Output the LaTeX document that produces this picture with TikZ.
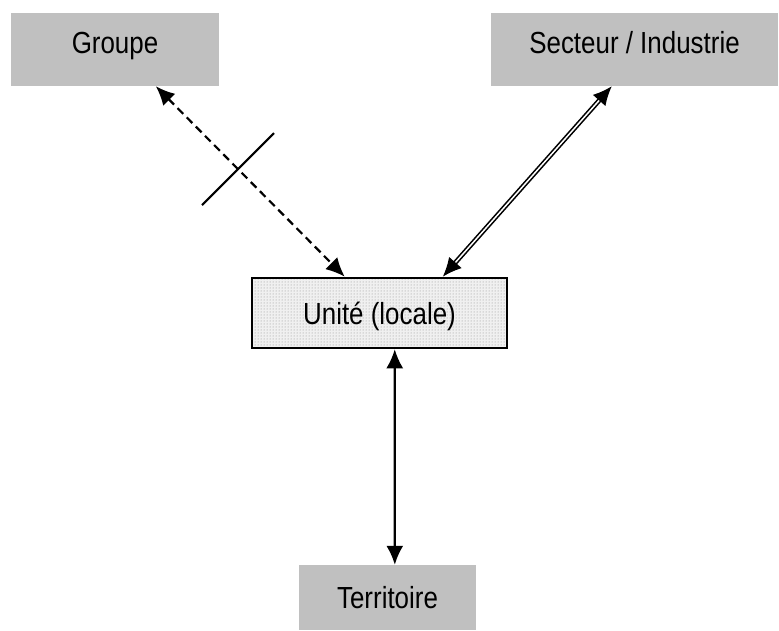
\documentclass[tikz,border=0pt]{standalone}
\usepackage{fontspec}
\setmainfont{Liberation Sans}[FakeStretch=0.85]
\definecolor{BoxGray}{HTML}{C0C0C0}
\usetikzlibrary{arrows.meta,patterns}

\begin{document}
\begin{tikzpicture}[x=1pt,y=-1pt,every node/.style={font=\fontsize{30.5}{36}\selectfont, inner sep=0pt}, greybox/.style={fill=BoxGray, minimum height=73pt, text height=22pt, text depth=14pt}, unitbox/.style={draw, line width=2.5pt, preaction={fill=gray!12}, pattern=dots, pattern color=gray!90, minimum width=255pt, minimum height=70pt, text height=22pt, text depth=0pt}, bothtips/.style={{Latex[length=19pt,width=17pt]}-{Latex[length=19pt,width=17pt]}}]
        \useasboundingbox (0,0) rectangle (779,630);
        \node[greybox, minimum width=208pt] (grp) at (115,49.5) {Groupe};
        \node[greybox, minimum width=287pt] (sect) at (634.5,49.5) {Secteur / Industrie};
        \node[unitbox] (unit) at (379.5,313) {Unité (locale)};
        \node[greybox, minimum width=177pt, minimum height=65pt, text depth=0pt] (terr) at (387.5,597.5) {Territoire};

        \draw[bothtips, line width=2.2pt, dash pattern=on 8pt off 5pt] ([xshift=145pt]grp.south west) -- coordinate[pos=0.43] (cut) ([xshift=94pt]unit.north west);
        \draw[line width=2.2pt] ([shift={(-35,37)}]cut) -- ([shift={(37,-35)}]cut);
        \draw[bothtips, double, double distance=1.5pt, line width=1.6pt] ([xshift=121pt]sect.south west) -- ([xshift=192pt]unit.north west);
        \draw[bothtips, line width=2.2pt] ([xshift=144pt]unit.south west) -- ([xshift=96pt]terr.north west);
    \end{tikzpicture}
\end{document}
